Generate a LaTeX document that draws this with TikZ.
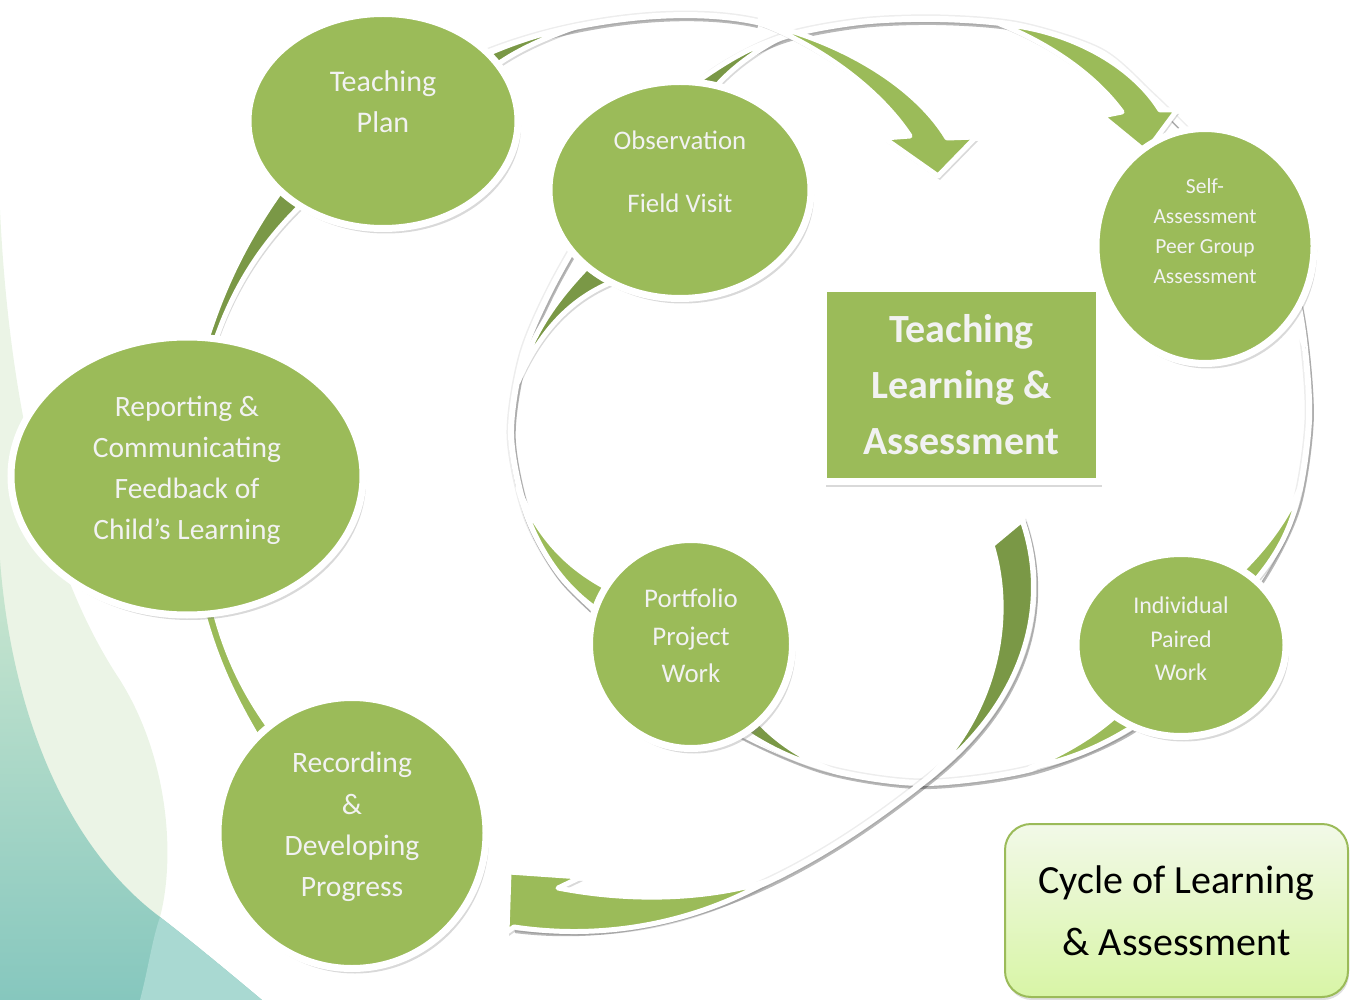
\documentclass[tikz,border=0pt]{standalone}
\usepackage{fontspec}
\setmainfont{Carlito}
\usetikzlibrary{shapes.geometric,shadows}
\definecolor{leafgreen}{HTML}{9BBB59}
\definecolor{leafdark}{HTML}{7A9846}
\definecolor{bubtextcol}{HTML}{F2F2F2}
\definecolor{tealdeep}{HTML}{86C7BE}
\definecolor{tealtop}{HTML}{CBE7D0}
\definecolor{tealwedge}{HTML}{A9D9D2}
\definecolor{palestreak}{HTML}{EBF4E6}
\definecolor{boxtop}{HTML}{F2F9E8}
\definecolor{boxbottom}{HTML}{D8F5A6}

\begin{document}
\begin{tikzpicture}[x=1pt, y=-1pt,
    ringline/.style={draw=white, line width=6pt, line cap=round,
        preaction={draw=black, opacity=0.07, line width=9pt},
        preaction={draw=black, opacity=0.28, line width=7pt, transform canvas={shift={(1.2pt,-2.6pt)}}}},
    band/.style={draw=white, line width=5pt, line join=round, fill=leafgreen,
        drop shadow={shadow xshift=2pt, shadow yshift=-4pt, opacity=0.3}},
    darkband/.style={band, fill=leafdark},
    bubble/.style={ellipse, draw=white, line width=7pt, fill=leafgreen, inner sep=0pt,
        drop shadow={shadow xshift=3pt, shadow yshift=-5pt, opacity=0.3}},
    bubtext/.style={text=bubtextcol, align=center},
    centrebox/.style={rectangle, draw=white, line width=7pt, fill=leafgreen, text=bubtextcol, align=center,
        font={\bfseries\fontsize{40}{56}\selectfont}, drop shadow={shadow xshift=2pt, shadow yshift=-5pt, opacity=0.3}},
    titlebox/.style={rectangle, rounded corners=26pt, draw=leafgreen, line width=2pt, top color=boxtop, bottom color=boxbottom,
        text=black, align=center, font={\fontsize{40}{62}\selectfont}, drop shadow={shadow xshift=1pt, shadow yshift=-3pt, opacity=0.25}}
]
\useasboundingbox (0,0) rectangle (1358,1000);

% Backdrop
\fill[palestreak] (0,210) .. controls (8,380) and (40,560) .. (120,680) .. controls (170,760) and (175,860) .. (160,917) -- (0,1000) -- cycle;
\shade[top color=tealtop, bottom color=tealdeep] (0,560) .. controls (12,720) and (70,850) .. (160,917) .. controls (200,948) and (232,975) .. (262,1000) -- (0,1000) -- cycle;
\fill[tealwedge] (160,917) .. controls (200,948) and (232,975) .. (262,1000) -- (140,1000) .. controls (148,970) and (152,940) .. (160,917) -- cycle;

% Inner cycle
\draw[ringline] plot[smooth cycle] coordinates {(511,435) (523,355) (553,285) (600,205) (655,130) (710,75) (780,38) (860,22) (940,19) (1020,26) (1100,52) (1150,95) (1205,150) (1262,215) (1292,280) (1304,340) (1309,420) (1296,505) (1262,575) (1205,650) (1135,725) (1035,768) (925,783) (830,770) (750,738) (680,695) (610,625) (560,575) (527,515)};

\filldraw[darkband] (672,100) .. controls (715,68) and (745,48) .. (780,38) .. controls (748,55) and (718,78) .. (700,108) -- cycle;
\filldraw[band] (1000,24) .. controls (1070,30) and (1132,65) .. (1160,110) -- (1177,110) -- (1146,152) -- (1102,116) -- (1122,112) .. controls (1095,75) and (1050,44) .. (1000,24) -- cycle;
\filldraw[darkband] (1282,282) .. controls (1293,302) and (1299,320) .. (1304,345) .. controls (1296,324) and (1288,308) .. (1274,290) -- cycle;
\filldraw[band] (1300,488) .. controls (1292,530) and (1275,560) .. (1245,592) -- (1232,580) .. controls (1262,552) and (1284,524) .. (1300,488) -- cycle;
\filldraw[band] (1140,722) .. controls (1100,748) and (1068,760) .. (1030,768) .. controls (1065,752) and (1095,736) .. (1124,708) -- cycle;
\filldraw[darkband] (735,725) .. controls (770,750) and (800,762) .. (834,771) .. controls (800,757) and (774,740) .. (752,714) -- cycle;
\filldraw[band] (605,615) .. controls (565,590) and (535,550) .. (518,488) .. controls (540,540) and (570,570) .. (615,592) -- cycle;
\filldraw[darkband] (592,262) .. controls (560,295) and (532,330) .. (518,382) .. controls (538,335) and (568,300) .. (612,282) -- cycle;

% Outer cycle
\draw[ringline] (470,60) .. controls (560,20) and (680,5) .. (757,22);
\draw[ringline] (1022,520) .. controls (1050,600) and (1030,700) .. (926,780) .. controls (850,840) and (700,950) .. (514,927);

\filldraw[darkband] (470,62) .. controls (505,45) and (540,33) .. (578,26) .. controls (545,38) and (515,50) .. (487,72) -- cycle;
\filldraw[band] (757,22) .. controls (840,40) and (915,85) .. (947,138) -- (976,137) -- (938,176) -- (884,138) -- (910,136) .. controls (880,90) and (820,45) .. (757,22) -- cycle;
\filldraw[darkband] (285,185) .. controls (245,240) and (222,290) .. (205,345) -- (214,345) .. controls (232,290) and (262,240) .. (312,195) -- cycle;
\filldraw[band] (200,600) .. controls (215,660) and (235,700) .. (262,745) -- (275,735) .. controls (245,695) and (225,655) .. (212,600) -- cycle;
\filldraw[darkband] (1022,520) .. controls (1050,600) and (1030,700) .. (926,780) .. controls (995,715) and (1015,620) .. (992,545) -- cycle;
\filldraw[band] (768,881) .. controls (690,925) and (600,940) .. (514,927) -- (507,932) -- (509,872) -- (581,877) -- (558,888) .. controls (630,902) and (705,900) .. (768,881) -- cycle;

% Stages
\node[bubble, minimum width=270pt, minimum height=215pt,
    label={[bubtext, yshift=19pt, font={\fontsize{30}{41}\selectfont}]center:Teaching\\Plan}] (plan) at (383,121) {};
\node[bubble, minimum width=262pt, minimum height=217pt,
    label={[bubtext, yshift=18pt, font={\fontsize{26.8}{63}\selectfont}]center:Observation\\Field Visit}] (observe) at (680,190) {};
\node[bubble, minimum width=218pt, minimum height=235pt,
    label={[bubtext, yshift=15pt, font={\fontsize{21.5}{30}\selectfont}]center:Self-\\Assessment\\Peer Group\\Assessment}] (selfpeer) at (1205,246) {};
\node[bubble, minimum width=352pt, minimum height=278pt,
    label={[bubtext, yshift=6pt, font={\fontsize{29.5}{41}\selectfont}]center:Reporting \&\\Communicating\\Feedback of\\Child’s Learning}] (report) at (187,476) {};
\node[bubble, minimum width=268pt, minimum height=271pt,
    label={[bubtext, yshift=6pt, font={\fontsize{29.6}{41.3}\selectfont}]center:Recording\\\&\\Developing\\Progress}] (record) at (352,833) {};
\node[bubble, minimum width=203pt, minimum height=209pt,
    label={[bubtext, yshift=8pt, font={\fontsize{26.9}{37.5}\selectfont}]center:Portfolio\\Project\\Work}] (portfolio) at (691,644) {};
\node[bubble, minimum width=210pt, minimum height=183pt,
    label={[bubtext, yshift=6pt, font={\fontsize{24}{33.5}\selectfont}]center:Individual\\Paired\\Work}] (individual) at (1181,645) {};

% Centre and title
\node[centrebox, minimum width=276pt, minimum height=193pt] (tla) at (961.5,385) {Teaching\\Learning \&\\Assessment};
\node[titlebox, minimum width=343pt, minimum height=173pt] (cycle) at (1176.5,910.5) {Cycle of Learning\\\& Assessment};

\end{tikzpicture}
\end{document}
